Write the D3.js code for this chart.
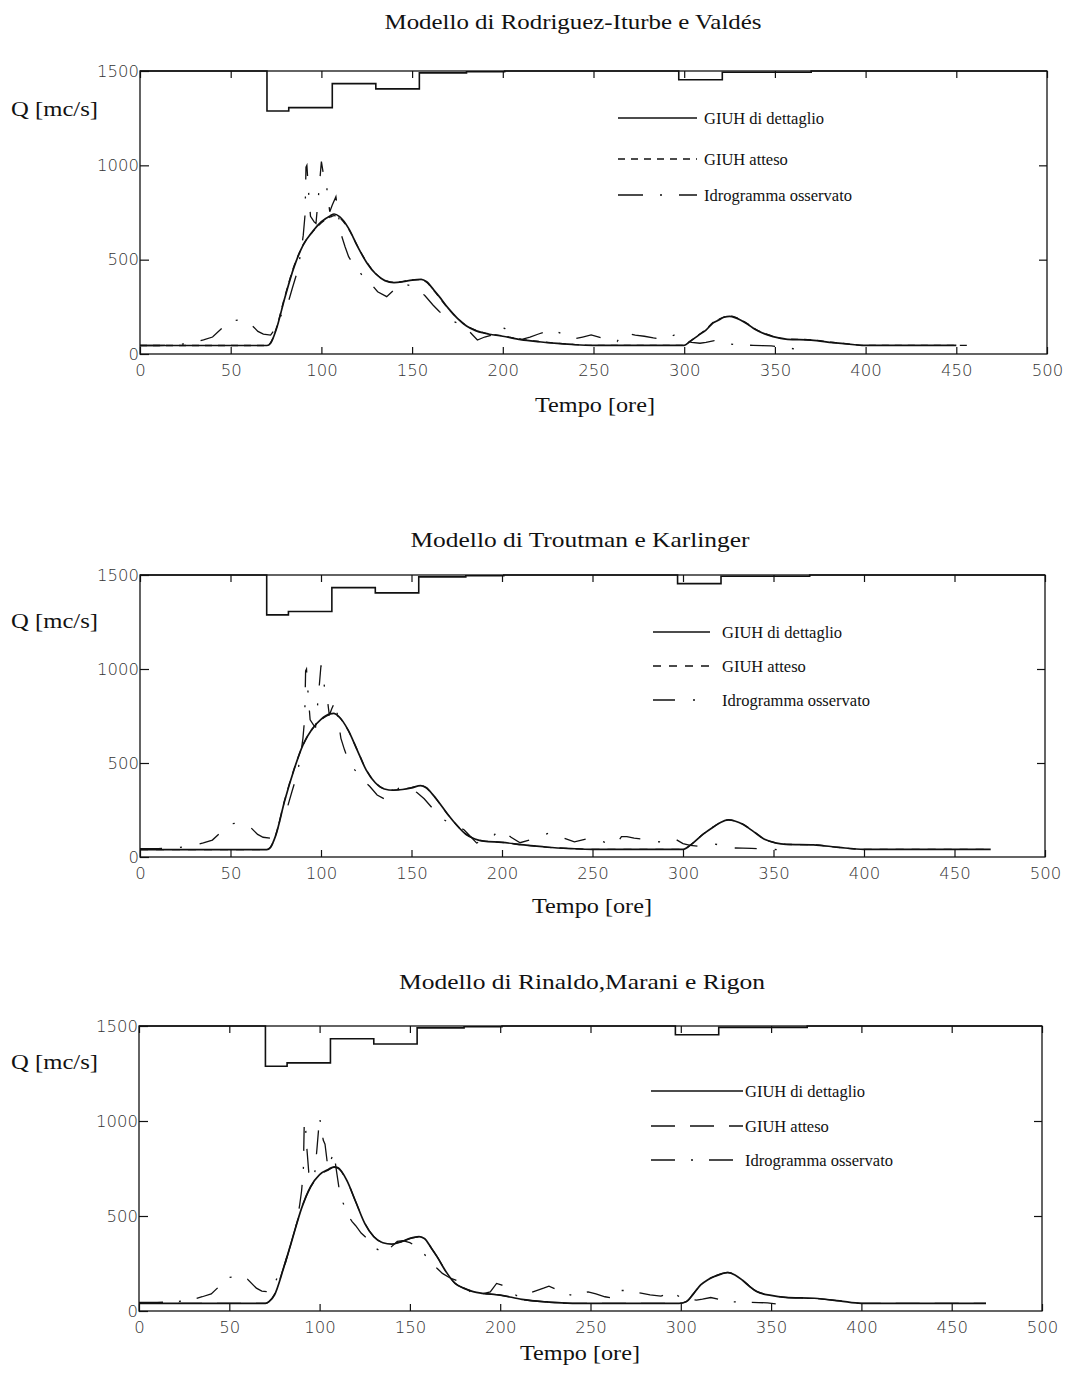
<!DOCTYPE html>
<html>
<head>
<meta charset="utf-8">
<script src="https://cdn.jsdelivr.net/npm/d3@7"></script>
<style>
  body { margin: 0; background: #fff; }
  svg { display: block; }
</style>
</head>
<body>
<script>
// tick labels
const hourTicks = [0, 50, 100, 150, 200, 250, 300, 350, 400, 450, 500]
const flowTicks = [0, 500, 1000, 1500]

const titles = [
  "Modello di Rodriguez-Iturbe e Valdés",
  "Modello di Troutman e Karlinger",
  "Modello di Rinaldo,Marani e Rigon"
]
const legendLabels = ["GIUH di dettaglio", "GIUH atteso", "Idrogramma osservato"]

// hyetograph, drawn hanging from the 1500 line (hour where step starts, depth below 1500)
const rainHours = [0, 70, 82, 106, 130, 154, 180, 201, 297, 321, 370, 500]
const rainDepth = [0, 212, 194, 67, 95, 10, 4, 0, 46, 7, 0, 0]

// observed hydrograph [hour, Q]
const observed = [
  [0, 45], [10, 45], [20, 48], [30, 62], [35, 75], [40, 90], [45, 135], [50, 177], [55, 180],
  [60, 168], [65, 120], [68, 105], [72, 100], [75, 140], [78, 210], [81, 250], [84, 350],
  [87, 445], [89, 560], [90, 630], [91, 740], [91.5, 990], [92, 1000], [93, 850], [94, 730],
  [96, 700], [97, 692], [98.5, 850], [100, 1020], [101, 960], [102, 900], [103, 878],
  [104.6, 754], [106, 790], [108, 834], [109, 760], [111, 631], [113, 570], [115, 516],
  [118, 470], [120, 449], [123, 410], [127, 375], [131, 330], [136, 304], [140, 340],
  [143, 366], [146, 370], [150, 360], [153, 343], [157, 310], [161.5, 260], [165, 225],
  [168, 198], [172, 175], [176, 160], [179, 145], [183, 105], [186, 74], [190, 90],
  [194.5, 101], [198, 145], [201, 136], [205, 105], [210, 76], [215, 90], [219.7, 106],
  [224, 120], [227, 131], [233, 105], [240, 81], [244, 90], [248.7, 101], [253, 90],
  [258, 75], [263, 66], [266, 108], [269, 108], [273, 100], [278, 94], [283, 85], [289, 78],
  [294.7, 101], [300, 71], [304, 62], [308.7, 57], [312, 62], [316.6, 71], [322, 60],
  [328.4, 48], [333, 47], [338, 46], [343, 44], [348, 43], [355, 35], [361, 27]
]

// Rodriguez-Iturbe e Valdes
const rodriguezDetailed = [
  [0, 45], [70, 45], [72, 57], [75, 127], [80, 304], [85, 463], [90, 578], [95, 648], [100, 701],
  [105, 733], [107, 742], [110, 728], [115, 666], [120, 569], [125, 484], [130, 424], [135, 389],
  [140, 378], [145, 383], [150, 392], [155, 396], [158, 383], [162, 339], [165, 304], [170, 242],
  [175, 189], [180, 148], [185, 124], [190, 110], [200, 94], [210, 76], [220, 65], [230, 56],
  [240, 49], [250, 46], [300, 46], [303, 65], [308, 100], [312, 127], [316, 165], [319, 180],
  [322, 195], [325, 199], [328, 193], [331, 180], [335, 158], [339, 131], [344, 108], [349, 92],
  [357, 78], [370, 74], [382, 60], [394, 49], [398, 46], [450, 46]
]
const rodriguezExpected = [
  [0, 45], [70, 45], [72, 60], [75, 132], [80, 310], [85, 468], [90, 580], [95, 645], [100, 695],
  [105, 726], [107, 733], [110, 722], [115, 662], [120, 570], [125, 486], [130, 426], [135, 391],
  [140, 380], [145, 385], [150, 393], [155, 394], [158, 380], [162, 336], [165, 300], [170, 240],
  [175, 190], [180, 150], [185, 126], [190, 112], [200, 96], [210, 78], [220, 66], [230, 57],
  [240, 50], [250, 46], [300, 46], [303, 66], [308, 102], [312, 130], [316, 168], [319, 183],
  [322, 197], [325, 201], [328, 195], [331, 182], [335, 160], [339, 133], [344, 110], [349, 94],
  [357, 80], [370, 75], [382, 61], [394, 50], [398, 46], [456, 46]
]

// Troutman e Karlinger
const troutmanDetailed = [
  [0, 39], [70, 39], [72, 50], [75, 115], [80, 302], [85, 462], [90, 595], [95, 679], [100, 732],
  [105, 761], [107, 764], [110, 746], [115, 675], [120, 569], [125, 462], [130, 395], [135, 362],
  [140, 355], [145, 359], [150, 368], [155, 380], [158, 370], [162, 329], [165, 293], [170, 227],
  [175, 169], [180, 121], [185, 96], [190, 84], [200, 78], [212, 64], [225, 52], [238, 45],
  [250, 41], [300, 41], [305, 70], [311, 120], [317, 161], [321, 185], [325, 197], [329, 190],
  [333, 174], [339, 135], [345, 94], [351, 75], [357, 67], [372, 65], [386, 51], [400, 41], [470, 41]
]
const troutmanExpected = [
  [0, 39], [70, 39], [72, 51], [75, 118], [80, 305], [85, 464], [90, 594], [95, 677], [100, 730],
  [105, 758], [107, 761], [110, 744], [115, 674], [120, 570], [125, 464], [130, 397], [135, 363],
  [140, 356], [145, 360], [150, 369], [155, 379], [158, 369], [162, 328], [165, 292], [170, 227],
  [175, 170], [180, 122], [185, 97], [190, 85], [200, 78], [212, 64], [225, 52], [238, 45],
  [250, 41], [300, 41], [305, 71], [311, 121], [317, 162], [321, 186], [325, 198], [329, 191],
  [333, 175], [339, 136], [345, 95], [351, 76], [357, 67], [372, 65], [386, 51], [400, 41], [470, 41]
]

// Rinaldo, Marani e Rigon
const rinaldoDetailed = [
  [0, 40], [70, 40], [72, 49], [75, 84], [80, 224], [85, 382], [90, 540], [95, 654], [100, 718],
  [105, 746], [108, 759], [110, 755], [115, 689], [120, 575], [125, 461], [130, 391], [135, 359],
  [140, 352], [145, 364], [150, 382], [155, 391], [158, 382], [162, 329], [165, 286], [170, 207],
  [175, 145], [180, 119], [185, 102], [190, 93], [200, 84], [212, 61], [225, 48], [240, 40],
  [299, 40], [303, 49], [307, 90], [311, 137], [315, 165], [319, 183], [323, 197], [326, 202],
  [330, 190], [334, 163], [338, 130], [342, 102], [350, 82], [358, 72], [374, 67], [388, 53],
  [400, 40], [469, 40]
]
const rinaldoExpected = [
  [0, 40], [70, 40], [72, 50], [75, 88], [80, 228], [85, 385], [90, 542], [95, 652], [100, 715],
  [105, 743], [108, 756], [110, 752], [115, 687], [120, 575], [125, 462], [130, 392], [135, 360],
  [140, 353], [145, 364], [150, 381], [155, 390], [158, 381], [162, 330], [165, 287], [170, 208],
  [175, 146], [180, 120], [185, 103], [190, 94], [200, 84], [212, 61], [225, 48], [240, 40],
  [299, 40], [303, 50], [307, 91], [311, 138], [315, 166], [319, 184], [323, 198], [326, 203],
  [330, 191], [334, 164], [338, 131], [342, 103], [350, 83], [358, 72], [374, 67], [388, 53],
  [400, 40], [469, 40]
]

const width = 1080
const height = 1393

const panels = [
  { title: titles[0], detailed: rodriguezDetailed, expected: rodriguezExpected,
    left: 140, right: 1047, top: 71, bottom: 354,
    titleX: 573, titleY: 29, titleW: 377, qY: 116, tempoX: 595, tempoY: 412,
    legX0: 618, legX1: 697, legTx: 704, legRows: [118, 159, 195],
    expDash: "7,6", obsDash: "25,17,2,17" },
  { title: titles[1], detailed: troutmanDetailed, expected: troutmanExpected,
    left: 140, right: 1045, top: 575, bottom: 857,
    titleX: 580, titleY: 547, titleW: 339, qY: 628, tempoX: 592, tempoY: 913,
    legX0: 653, legX1: 710, legTx: 722, legRows: [632, 666, 700],
    expDash: "8,8", obsDash: "22,18,2,18" },
  { title: titles[2], detailed: rinaldoDetailed, expected: rinaldoExpected,
    left: 139, right: 1042, top: 1026, bottom: 1311,
    titleX: 582, titleY: 989, titleW: 366, qY: 1069, tempoX: 580, tempoY: 1360,
    legX0: 651, legX1: 743, legTx: 745, legRows: [1091, 1126, 1160],
    expDash: "24,15", obsDash: "24,16,2,16" }
]

const svg = d3.select("body").append("svg")
  .attr("width", width)
  .attr("height", height)

svg.append("rect").attr("width", width).attr("height", height).attr("fill", "#fff")

const serif = "'Liberation Serif', 'Times New Roman', serif"
const sans = "'DejaVu Sans', sans-serif"

const drawPanel = (p) => {
  const x = d3.scaleLinear().domain([0, 500]).range([p.left, p.right])
  const y = d3.scaleLinear().domain([0, 1500]).range([p.bottom, p.top])
  const g = svg.append("g")

  // axes, ticks pointing inward
  g.append("g")
    .attr("transform", "translate(0," + p.bottom + ")")
    .call(d3.axisBottom(x).tickValues(hourTicks).tickFormat(d3.format("d"))
      .tickSizeInner(-7).tickSizeOuter(0).tickPadding(10))
  g.append("g")
    .attr("transform", "translate(0," + p.top + ")")
    .call(d3.axisTop(x).tickValues(hourTicks).tickSizeInner(-7).tickSizeOuter(0).tickFormat(""))
  g.append("g")
    .attr("transform", "translate(" + p.left + ",0)")
    .call(d3.axisLeft(y).tickValues(flowTicks).tickFormat(d3.format("d"))
      .tickSizeInner(-9).tickSizeOuter(0).tickPadding(1))
  g.append("g")
    .attr("transform", "translate(" + p.right + ",0)")
    .call(d3.axisRight(y).tickValues([500, 1000]).tickSizeInner(-8).tickSizeOuter(0).tickFormat(""))

  g.selectAll(".domain").remove()
  g.selectAll(".tick line").attr("stroke", "#111").attr("stroke-width", 1.2)
  g.selectAll(".tick text")
    .attr("font-family", sans)
    .attr("font-weight", 200)
    .attr("font-size", 16.5)
    .attr("fill", "#333")

  // hyetograph
  const rain = rainHours.map((h, i) => [h, 1500 - rainDepth[i]])
  g.append("path")
    .datum(rain)
    .attr("fill", "none")
    .attr("stroke", "#111")
    .attr("stroke-width", 1.6)
    .attr("d", d3.line().x(d => x(d[0])).y(d => y(d[1])).curve(d3.curveStepAfter))

  const smooth = d3.line().x(d => x(d[0])).y(d => y(d[1])).curve(d3.curveMonotoneX)

  g.append("path")
    .datum(p.detailed)
    .attr("fill", "none")
    .attr("stroke", "#111")
    .attr("stroke-width", 1.7)
    .attr("d", smooth)

  g.append("path")
    .datum(p.expected)
    .attr("fill", "none")
    .attr("stroke", "#111")
    .attr("stroke-width", 1.3)
    .attr("stroke-dasharray", p.expDash)
    .attr("d", smooth)

  g.append("path")
    .datum(observed)
    .attr("fill", "none")
    .attr("stroke", "#111")
    .attr("stroke-width", 1.3)
    .attr("stroke-dasharray", p.obsDash)
    .attr("d", d3.line().x(d => x(d[0])).y(d => y(d[1])))

  // frame
  g.append("rect")
    .attr("x", p.left).attr("y", p.top)
    .attr("width", p.right - p.left).attr("height", p.bottom - p.top)
    .attr("fill", "none")
    .attr("stroke", "#111")
    .attr("stroke-width", 1.3)

  // legend
  const dashes = [null, p.expDash, p.obsDash]
  const widths = [1.7, 1.3, 1.3]
  legendLabels.forEach((label, i) => {
    g.append("line")
      .attr("x1", p.legX0).attr("x2", p.legX1)
      .attr("y1", p.legRows[i]).attr("y2", p.legRows[i])
      .attr("stroke", "#111")
      .attr("stroke-width", widths[i])
      .attr("stroke-dasharray", dashes[i])
    g.append("text")
      .attr("x", p.legTx).attr("y", p.legRows[i])
      .attr("dy", "0.35em")
      .attr("font-family", serif)
      .attr("font-size", 16.5)
      .attr("fill", "#111")
      .text(label)
  })

  // titles and axis labels
  g.append("text")
    .attr("x", p.titleX).attr("y", p.titleY)
    .attr("text-anchor", "middle")
    .attr("font-family", serif)
    .attr("font-size", 21)
    .attr("textLength", p.titleW)
    .attr("lengthAdjust", "spacingAndGlyphs")
    .attr("fill", "#111")
    .text(p.title)

  g.append("text")
    .attr("x", 11).attr("y", p.qY)
    .attr("font-family", serif)
    .attr("font-size", 22)
    .attr("textLength", 87)
    .attr("lengthAdjust", "spacingAndGlyphs")
    .attr("fill", "#111")
    .text("Q [mc/s]")

  g.append("text")
    .attr("x", p.tempoX).attr("y", p.tempoY)
    .attr("text-anchor", "middle")
    .attr("font-family", serif)
    .attr("font-size", 22)
    .attr("textLength", 120)
    .attr("lengthAdjust", "spacingAndGlyphs")
    .attr("fill", "#111")
    .text("Tempo [ore]")
}

panels.forEach(drawPanel)
</script>
</body>
</html>
